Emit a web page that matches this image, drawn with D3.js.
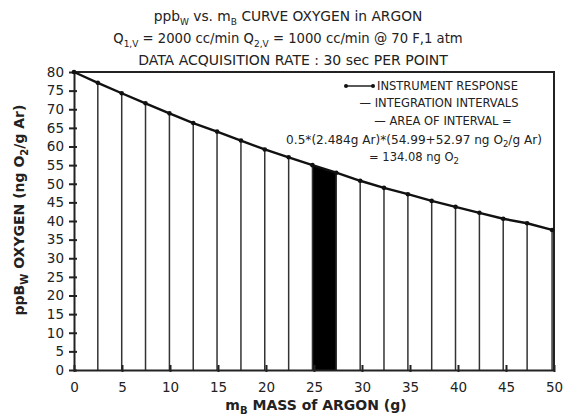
<!DOCTYPE html>
<html><head><meta charset="utf-8">
<script src="https://cdn.jsdelivr.net/npm/d3@7"></script>
<style>body{margin:0;background:#fff}svg{display:block}text{font-family:"DejaVu Sans",Verdana,sans-serif;fill:#222}</style>
</head><body><svg id="c" width="569" height="418"></svg>
<script>
const massArgon = [0, 2.48, 4.97, 7.45, 9.94, 12.42, 14.90, 17.39, 19.87, 22.36, 24.84, 27.32, 29.81, 32.29, 34.78, 37.26, 39.74, 42.23, 44.71, 47.20, 49.80];
const ppbOxygen = [80, 77.1, 74.3, 71.6, 68.9, 66.3, 64.0, 61.6, 59.2, 57.1, 54.99, 52.97, 50.8, 48.9, 47.2, 45.4, 43.8, 42.2, 40.6, 39.4, 37.6];
const shadedInterval = [10, 11];
const xTicks = [0,5,10,15,20,25,30,35,40,45,50];
const yTicks = [0,5,10,15,20,25,30,35,40,45,50,55,60,65,70,75,80];

const svg = d3.select("#c");
const L = 74, R = 554, T = 72, B = 370;
const x = d3.scaleLinear().domain([0,50]).range([L,R]);
const y = d3.scaleLinear().domain([0,80]).range([B,T]);
const pts = massArgon.map((m,i)=>({m, v: ppbOxygen[i]}));

// shaded interval
const s = pts.slice(shadedInterval[0], shadedInterval[1]+1);
svg.append("path")
  .attr("d", d3.area().x(d=>x(d.m)).y0(y(0)).y1(d=>y(d.v))(s))
  .attr("fill","#000");

// integration interval lines
svg.append("g").selectAll("line").data(pts.slice(1)).join("line")
  .attr("x1",d=>x(d.m)).attr("x2",d=>x(d.m))
  .attr("y1",d=>y(d.v)).attr("y2",y(0))
  .attr("stroke","#333").attr("stroke-width",1.5);

// frame top/right
svg.append("path").attr("d",`M${L},${T}H${R}V${B}`).attr("fill","none").attr("stroke","#222").attr("stroke-width",2);

// axes
const gx = svg.append("g").attr("transform",`translate(0,${B})`)
  .call(d3.axisBottom(x).tickValues(xTicks).tickFormat(d3.format("d")).tickSize(0).tickPadding(12));
gx.select(".domain").attr("stroke","#222").attr("stroke-width",2);
gx.selectAll(".tick").append("line").attr("y1",-5).attr("y2",2).attr("stroke","#222").attr("stroke-width",2);
gx.selectAll(".tick text").attr("font-size",13.5).attr("font-family","DejaVu Sans").attr("fill","#222");

const gy = svg.append("g").attr("transform",`translate(${L},0)`)
  .call(d3.axisLeft(y).tickValues(yTicks).tickFormat(d3.format("d")).tickSize(0).tickPadding(10));
gy.select(".domain").attr("stroke","#222").attr("stroke-width",2);
gy.selectAll(".tick").append("line").attr("x1",-5).attr("x2",3).attr("stroke","#222").attr("stroke-width",2);
gy.selectAll(".tick text").attr("font-size",13.5).attr("font-family","DejaVu Sans").attr("fill","#222");

// curve
svg.append("path").datum(pts)
  .attr("d", d3.line().x(d=>x(d.m)).y(d=>y(d.v)))
  .attr("fill","none").attr("stroke","#111").attr("stroke-width",2.4);
svg.append("g").selectAll("circle").data(pts).join("circle")
  .attr("cx",d=>x(d.m)).attr("cy",d=>y(d.v)).attr("r",2.3).attr("fill","#111");

// helper for subscript text (no empty tspans)
function rich(sel, parts, subSize){
  let pending = 0;
  parts.forEach(p=>{
    if (typeof p === "string") {
      const t = sel.append("tspan").text(p);
      if (pending) { t.attr("dy", -pending); pending = 0; }
    } else {
      const dy = p.dy || 4;
      sel.append("tspan").attr("font-size",subSize).attr("dy",dy - pending).text(p.sub);
      pending = dy;
    }
  });
  return sel;
}

// title
const title = svg.append("g").attr("font-size",13.8).attr("text-anchor","middle");
rich(title.append("text").attr("x",288).attr("y",21),
  ["ppb",{sub:"W"}," vs. m",{sub:"B"}," CURVE OXYGEN in ARGON"], 9);
rich(title.append("text").attr("x",288).attr("y",43).attr("font-size",13.2),
  ["Q",{sub:"1,V"}," = 2000 cc/min Q",{sub:"2,V"}," = 1000 cc/min @ 70 F,1 atm"], 9);
title.append("text").attr("x",293).attr("y",65).attr("font-size",14).text("DATA ACQUISITION RATE : 30 sec PER POINT");

// legend / annotation
const leg = svg.append("g").attr("font-size",11.5).attr("text-anchor","middle");
const sym = svg.append("g");
sym.append("line").attr("x1",346).attr("x2",373).attr("y1",86).attr("y2",86).attr("stroke","#222").attr("stroke-width",1.5);
sym.selectAll("circle").data([346,373]).join("circle").attr("cx",d=>d).attr("cy",86).attr("r",2).attr("fill","#111");
leg.append("text").attr("x",377).attr("y",90).attr("text-anchor","start").text("INSTRUMENT RESPONSE");
leg.append("text").attr("x",439).attr("y",107).text("\u2014  INTEGRATION INTERVALS");
leg.append("text").attr("x",443).attr("y",125).text("\u2014  AREA OF INTERVAL =");
rich(leg.append("text").attr("x",414).attr("y",144).attr("font-size",12.1),
  ["0.5*(2.484g Ar)*(54.99+52.97 ng O",{sub:"2",dy:3},"/g Ar)"], 8.5);
rich(leg.append("text").attr("x",414).attr("y",161),
  ["= 134.08 ng O",{sub:"2",dy:3}], 8.5);

// axis titles
const xl = svg.append("text").attr("x",316).attr("y",410).attr("text-anchor","middle")
  .attr("font-size",14).attr("font-weight","bold");
rich(xl, ["m",{sub:"B"}," MASS of ARGON (g)"], 10);
const yl = svg.append("text").attr("transform","translate(24,210) rotate(-90)").attr("text-anchor","middle")
  .attr("font-size",14).attr("font-weight","bold");
rich(yl, ["ppB",{sub:"W"}," OXYGEN (ng O",{sub:"2"},"/g Ar)"], 10);
</script></body></html>
